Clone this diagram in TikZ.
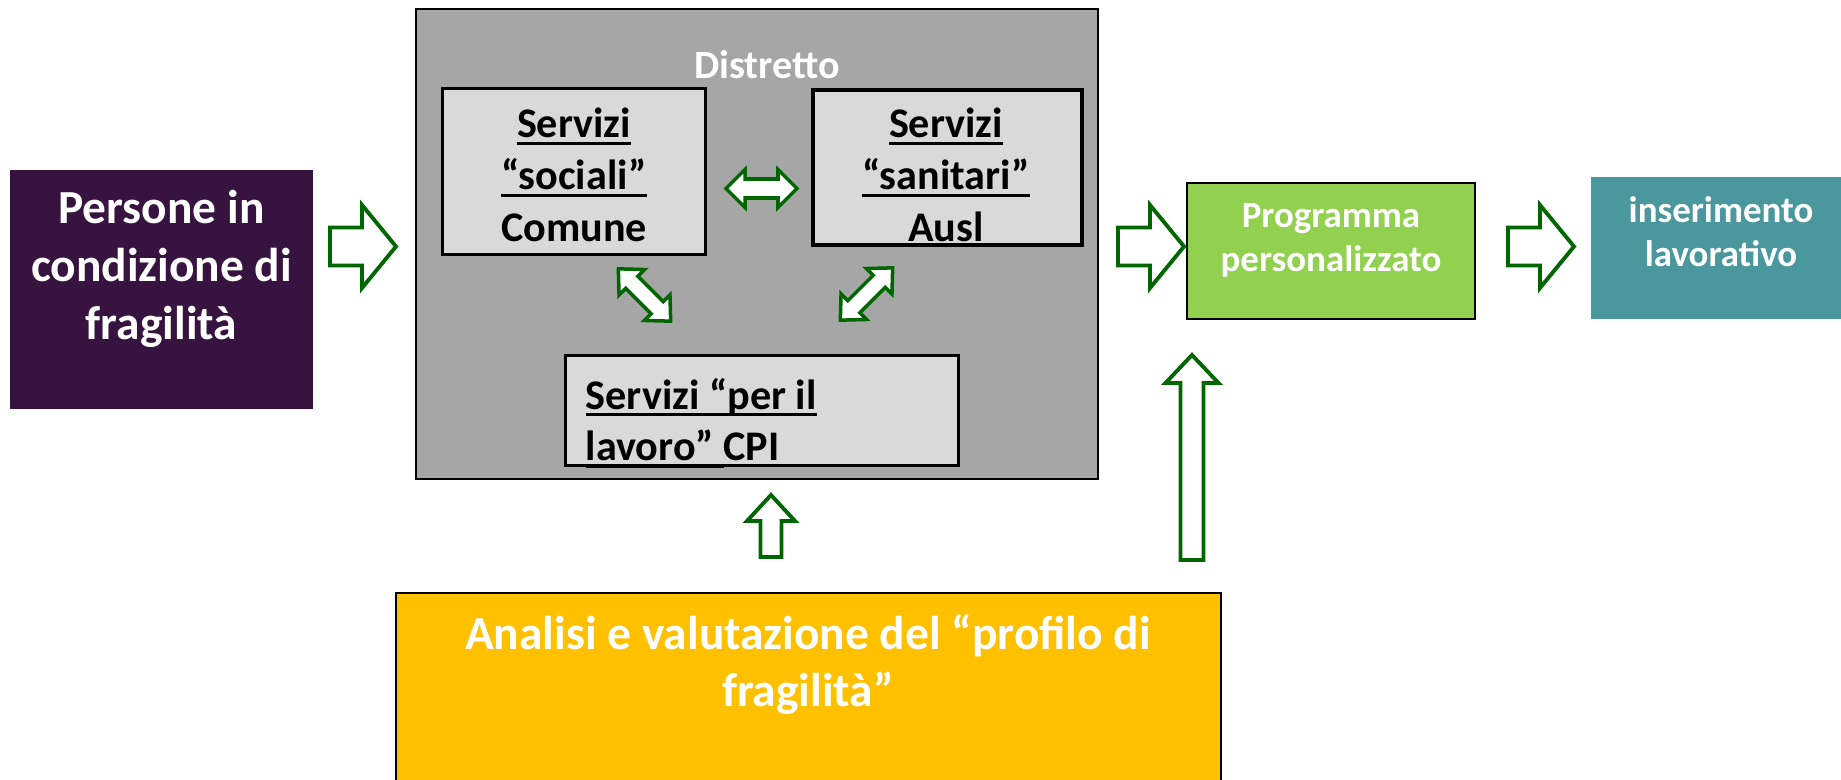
\documentclass[tikz,border=0pt]{standalone}
\usepackage{fontspec}
\setmainfont{Carlito}
\usepackage{xcolor}
\usepackage{tikz}

\definecolor{viola}{RGB}{55,19,64}
\definecolor{grigioscuro}{RGB}{166,166,166}
\definecolor{grigiochiaro}{RGB}{217,217,217}
\definecolor{verdechiaro}{RGB}{146,208,80}
\definecolor{ottanio}{RGB}{74,151,158}
\definecolor{giallo}{RGB}{255,192,0}
\definecolor{verdescuro}{RGB}{0,102,0}

\newcommand{\fontgrande}{\fontsize{13.5}{16.5}\selectfont\bfseries}
\newcommand{\fontmedio}{\fontsize{12}{14.7}\selectfont\bfseries}
\newcommand{\fontdist}{\fontsize{11.4}{13.6}\selectfont\bfseries}
\newcommand{\fontpiccolo}{\fontsize{10.5}{12.4}\selectfont\bfseries}

\newsavebox{\sottobox}
\newcommand{\sottolinea}[1]{\sbox\sottobox{#1}\rlap{\vrule width\wd\sottobox height -1.2pt depth 2.1pt}\usebox\sottobox}

\tikzset{
  pics/freccia/.style n args={4}{code={
    \draw[contorno] (0,-#2) -- ({#1-#4},-#2) -- ({#1-#4},-#3) -- (#1,0)
      -- ({#1-#4},#3) -- ({#1-#4},#2) -- (0,#2) -- cycle;
  }},
  pics/doppia/.style n args={4}{code={
    \draw[contorno, line width=1pt] ({-#1/2},0) -- ({-#1/2+#4},#3) -- ({-#1/2+#4},#2)
      -- ({#1/2-#4},#2) -- ({#1/2-#4},#3) -- ({#1/2},0) -- ({#1/2-#4},-#3)
      -- ({#1/2-#4},-#2) -- ({-#1/2+#4},-#2) -- ({-#1/2+#4},-#3) -- cycle;
  }}
}

\begin{document}
\begin{tikzpicture}[every node/.style={inner sep=0pt},
    contorno/.style={draw=verdescuro, fill=white, line width=1.1pt},
    riquadro/.style={draw, line width=0.9pt, fill=grigiochiaro},
    testobianco/.style={text=white, align=center},
    testonero/.style={text=black, align=center}]
    \useasboundingbox (0,0) rectangle (18.41,-7.79);

    \node[fill=viola, minimum width=3.03cm, minimum height=2.39cm] (persone) at (1.615,-2.895) {};
    \node[testobianco, font=\fontgrande] (persone-t) at (1.615,-2.69) {Persone in\\condizione di\\fragilità};

    \node[draw, line width=0.6pt, fill=grigioscuro, minimum width=6.82cm, minimum height=4.70cm] (distretto) at (7.57,-2.44) {};
    \node[testobianco, font=\fontdist] (distretto-t) at (7.67,-0.645) {Distretto};

    \node[riquadro, minimum width=2.63cm, minimum height=1.66cm] (sociali) at (5.74,-1.715) {};
    \node[testonero, font=\fontmedio] (sociali-t) at (5.74,-1.75) {\sottolinea{Servizi}\\\sottolinea{“sociali”}\\Comune};
    \node[riquadro, minimum width=2.69cm, minimum height=1.55cm] (sanitari) at (9.475,-1.675) {};
    \node[testonero, font=\fontmedio] (sanitari-t) at (9.46,-1.75) {\sottolinea{Servizi}\\\sottolinea{“sanitari”}\\Ausl};
    \node[riquadro, minimum width=3.93cm, minimum height=1.10cm] (cpi) at (7.62,-4.105) {};
    \node[font=\fontmedio, align=left, anchor=west] (cpi-t) at (5.85,-4.23) {\sottolinea{Servizi “per il}\\\sottolinea{lavoro”\ }CPI};

    \node[draw, line width=0.6pt, fill=verdechiaro, minimum width=2.88cm, minimum height=1.36cm] (programma) at (13.31,-2.51) {};
    \node[testobianco, font=\fontpiccolo] (programma-t) at (13.31,-2.405) {Programma\\personalizzato};

    \node[fill=ottanio, minimum width=2.5cm, minimum height=1.42cm] (inserimento) at (17.16,-2.48) {};
    \node[testobianco, font=\fontpiccolo] (inserimento-t) at (17.21,-2.315) {inserimento\\lavorativo};

    \node[draw, line width=0.5pt, fill=giallo, minimum width=8.25cm, minimum height=1.97cm] (analisi) at (8.085,-6.915) {};
    \node[testobianco, font=\fontgrande] (analisi-t) at (8.08,-6.645) {Analisi e valutazione del “profilo di\\fragilità”};

    \pic (f1) at (3.30,-2.465) {freccia={0.66}{0.19}{0.415}{0.34}};
    \pic (f2) at (11.18,-2.465) {freccia={0.66}{0.19}{0.415}{0.34}};
    \pic (f3) at (15.08,-2.465) {freccia={0.66}{0.19}{0.415}{0.34}};
    \pic[rotate=90] (f4) at (7.71,-5.57) {freccia={0.62}{0.105}{0.24}{0.26}};
    \pic[rotate=90] (f5) at (11.92,-5.60) {freccia={2.05}{0.115}{0.265}{0.28}};

    \pic (d1) at (7.615,-1.885) {doppia={0.71}{0.095}{0.19}{0.19}};
    \pic[rotate=-45] (d2) at (6.445,-2.95) {doppia={0.74}{0.085}{0.18}{0.19}};
    \pic[rotate=45] (d3) at (8.665,-2.94) {doppia={0.74}{0.085}{0.18}{0.19}};
\end{tikzpicture}
\end{document}
